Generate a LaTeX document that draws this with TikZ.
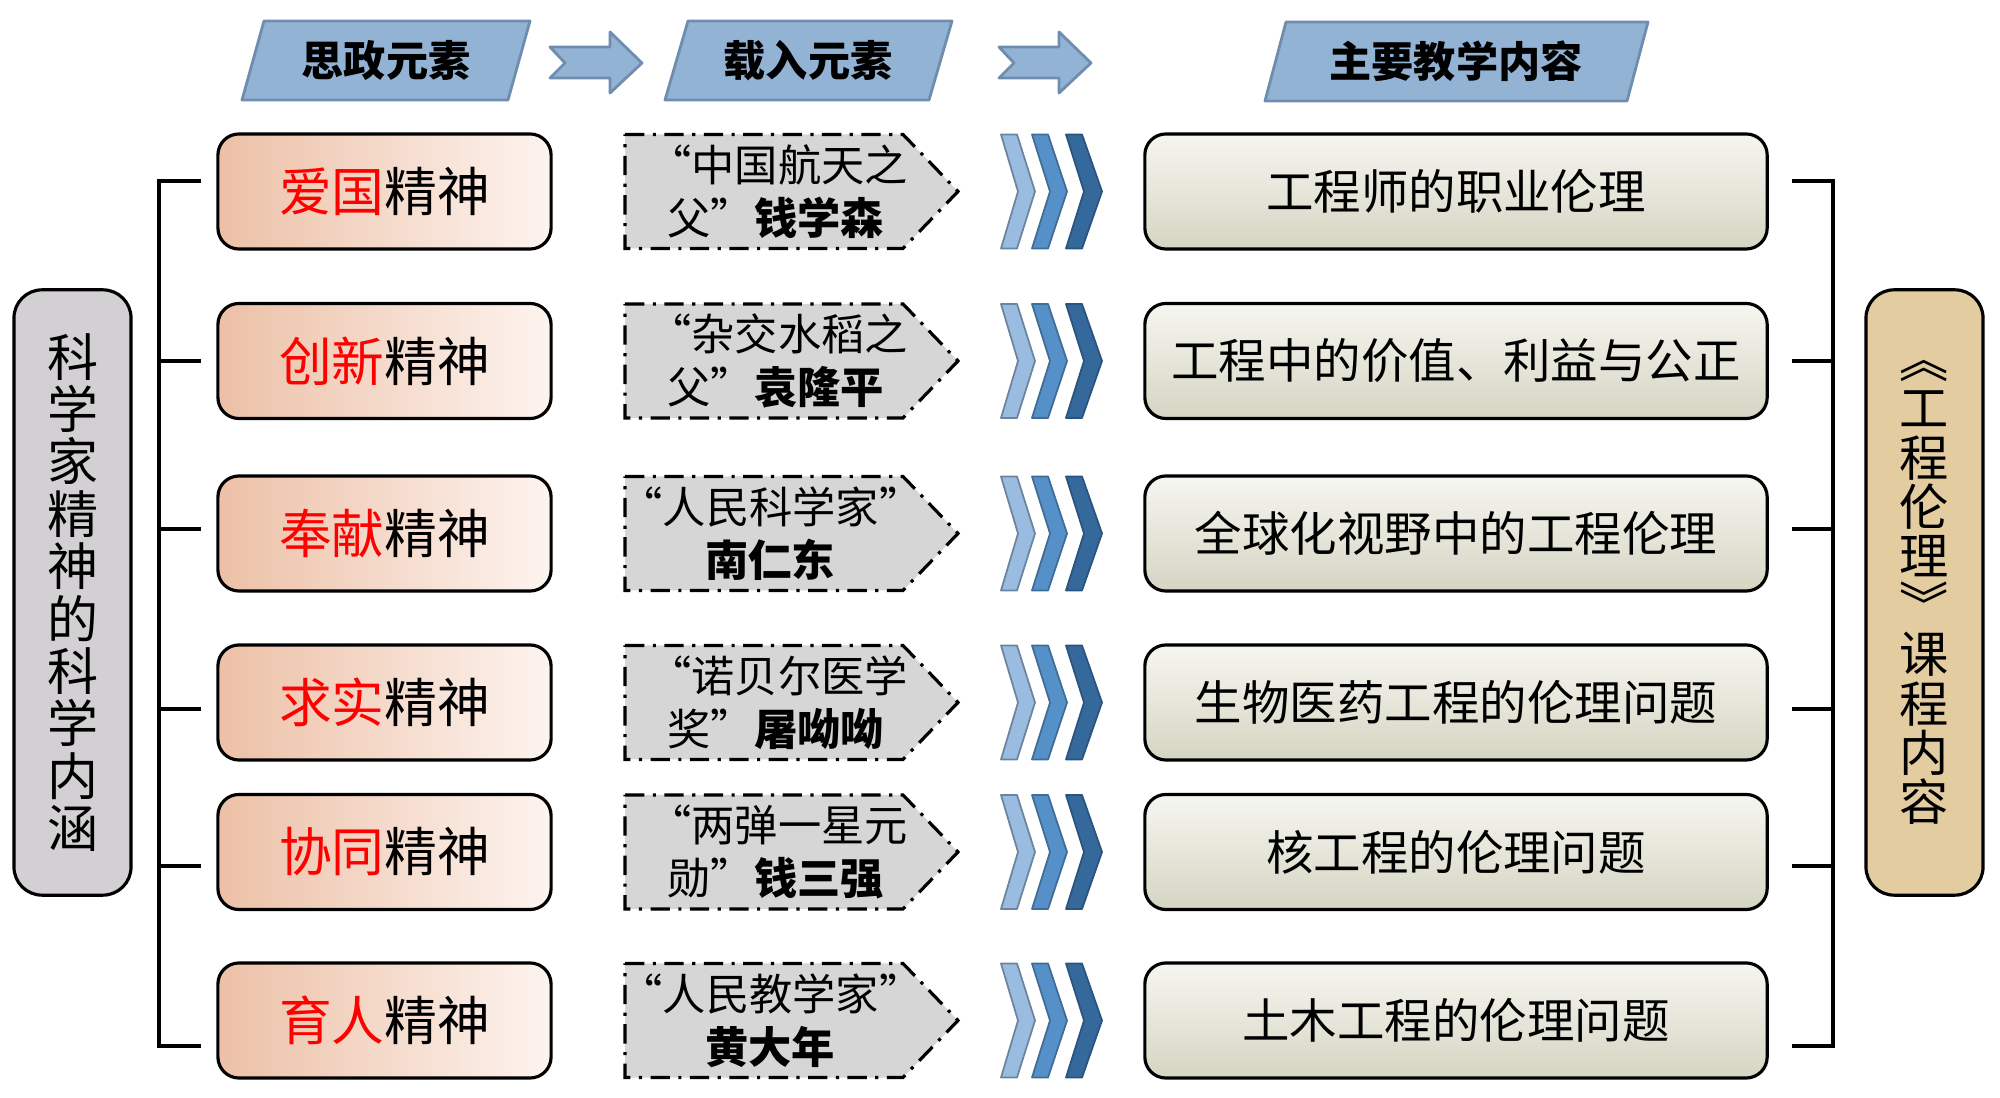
\documentclass[tikz,border=0pt]{standalone}
\usepackage{fontspec}
\setmainfont{Noto Sans CJK SC}
\newcommand{\myLq}{\makebox[0.55em][r]{“}}
\newcommand{\myRq}{\makebox[0.5em][l]{”}}
\definecolor{hdrfill}{HTML}{93B3D5}
\definecolor{hdrdraw}{HTML}{6F8DAE}
\definecolor{salmon}{HTML}{ECC0A6}
\definecolor{salmonlt}{HTML}{FDF4EF}
\definecolor{rtop}{HTML}{F6F6F1}
\definecolor{rbot}{HTML}{D5D5C3}
\definecolor{dgrey}{HTML}{D6D6D6}
\definecolor{chA}{HTML}{9ABCE0}
\definecolor{chB}{HTML}{5690C8}
\definecolor{chC}{HTML}{35699C}
\definecolor{lgrey}{HTML}{D3D0D3}
\definecolor{tanfill}{HTML}{E3CCA0}
\definecolor{redtxt}{HTML}{FF0000}
\tikzset{
  hdr/.style={fill=hdrfill, draw=hdrdraw, line width=0.8pt, line join=round},
  hdrtext/.style={font=\bfseries\fontsize{12}{14}\selectfont, inner sep=0pt},
  leftbox/.style={draw, line width=0.9pt, rounded corners=6pt, left color=salmon, right color=salmonlt,
     minimum width=3.33cm, minimum height=1.15cm, font=\fontsize{15}{17}\selectfont},
  rightbox/.style={draw, line width=0.9pt, rounded corners=6pt, top color=rtop, bottom color=rbot,
     minimum width=6.22cm, minimum height=1.15cm, font=\fontsize{13.5}{16}\selectfont},
  dashbox/.style={fill=dgrey, draw=black, line width=0.9pt,
     dash pattern=on 5.5pt off 2.4pt on 0.9pt off 2.4pt},
  dashtext/.style={font=\fontsize{12.3}{15}\selectfont, inner sep=0pt},
  chev/.style={line width=0.5pt, line join=round},
  brk/.style={line width=1.3pt},
  vbox/.style={draw, line width=0.9pt, rounded corners=8pt, minimum width=1.17cm, minimum height=6.05cm}
}
\begin{document}
\begin{tikzpicture}[x=0.01cm,y=-0.01cm]
\useasboundingbox (0,0) rectangle (2000,1098);

% headers
\draw[hdr] (242,100) -- (264,21) -- (530,21) -- (508,100) -- cycle;
\node[hdrtext] (h1) at (386,61) {思政元素};
\draw[hdr] (665,100) -- (688,21) -- (952,21) -- (929,100) -- cycle;
\node[hdrtext] (h2) at (808,61) {载入元素};
\draw[hdr] (1265,101) -- (1286,22) -- (1648,22) -- (1627,101) -- cycle;
\node[hdrtext] (h3) at (1456,61) {主要教学内容};

% header arrows
\draw[hdr] (550,47) -- (610,47) -- (610,32) -- (642,63) -- (610,93) -- (610,78) -- (550,78) -- (565,63) -- cycle;
\draw[hdr] (999,47) -- (1059,47) -- (1059,32) -- (1091,63) -- (1059,93) -- (1059,78) -- (999,78) -- (1014,63) -- cycle;

% rows
\foreach \i/\c/\r/\t in {1/191.5/爱国/工程师的职业伦理, 2/361/创新/工程中的价值、利益与公正, 3/533.5/奉献/全球化视野中的工程伦理, 4/702.5/求实/生物医药工程的伦理问题, 5/852/协同/核工程的伦理问题, 6/1020.5/育人/土木工程的伦理问题}{
  \node[leftbox] (L\i) at (384.5,\c) {\textcolor{redtxt}{\r}精神};
  \draw[dashbox] (625,{\c-57}) -- (903,{\c-57}) -- (958,\c) -- (903,{\c+57}) -- (625,{\c+57}) -- cycle;
  \draw[chev, fill=chA, draw=chA!70!black] (1001,{\c-57}) -- (1017,{\c-57}) -- (1035,\c) -- (1017,{\c+57}) -- (1001,{\c+57}) -- (1018,\c) -- cycle;
  \draw[chev, fill=chB, draw=chB!75!black] (1032,{\c-57}) -- (1048,{\c-57}) -- (1067,\c) -- (1048,{\c+57}) -- (1032,{\c+57}) -- (1050,\c) -- cycle;
  \draw[chev, fill=chC, draw=chC!80!black] (1066,{\c-57}) -- (1082,{\c-57}) -- (1102,\c) -- (1082,{\c+57}) -- (1066,{\c+57}) -- (1084,\c) -- cycle;
  \node[rightbox] (R\i) at (1456,\c) {\t};
}

% dashed box texts
\node[dashtext, anchor=west, align=left] (d1) at (667,191.5) {\myLq 中国航天之\\父”\textbf{钱学森}};
\node[dashtext, anchor=west, align=left] (d2) at (667,361) {\myLq 杂交水稻之\\父”\textbf{袁隆平}};
\node[dashtext, align=center] (d3) at (770,533.5) {\myLq 人民科学家\myRq\\\textbf{南仁东}};
\node[dashtext, anchor=west, align=left] (d4) at (667,702.5) {\myLq 诺贝尔医学\\奖”\textbf{屠呦呦}};
\node[dashtext, anchor=west, align=left] (d5) at (667,852) {\myLq 两弹一星元\\勋”\textbf{钱三强}};
\node[dashtext, align=center] (d6) at (770,1020.5) {\myLq 人民教学家\myRq\\\textbf{黄大年}};

% brackets
\coordinate (lt1) at (201,181); \coordinate (lt6) at (201,1046);
\draw[brk] (lt1) -- (159,181) -- (159,1046) -- (lt6);
\foreach \y in {361,529,709,866} \draw[brk] (159,\y) -- (201,\y);
\coordinate (rt1) at (1792,181); \coordinate (rt6) at (1792,1046);
\draw[brk] (rt1) -- (1833,181) -- (1833,1046) -- (rt6);
\foreach \y in {361,529,709,866} \draw[brk] (1792,\y) -- (1833,\y);

% vertical boxes
\node[vbox, fill=lgrey, align=center, font=\fontsize{14.5}{14.9}\selectfont] (V1) at (72.5,592.5)
  {科\\学\\家\\精\\神\\的\\科\\学\\内\\涵};
\node[vbox, fill=tanfill, align=center, font=\fontsize{14}{14}\selectfont] (V2) at (1924.5,592.5)
  {︽\\工\\程\\伦\\理\\︾\\课\\程\\内\\容};
\end{tikzpicture}
\end{document}
